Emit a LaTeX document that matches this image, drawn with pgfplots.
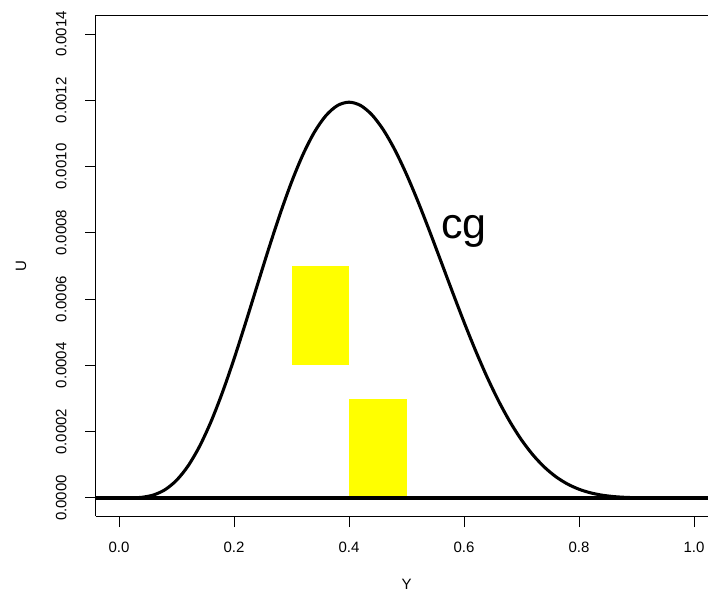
\documentclass[border=0pt]{standalone}
\usepackage{fontspec}
\setmainfont{Liberation Sans}
\usepackage{pgfplots}
\pgfplotsset{compat=1.18}
\definecolor{ryellow}{RGB}{255,255,0}
\begin{document}
\begin{tikzpicture}
\begin{axis}[
  at={(0,0)}, anchor=south west,
  scale only axis,
  width=459pt, height=375.75pt,
  xmin=-0.04, xmax=1.0243,
  ymin=-0.000056, ymax=0.001456,
  axis x line*=box, axis y line*=left,
  axis line style={line width=0.75pt},
  xtick={0,0.2,0.4,0.6,0.8,1.0},
  ytick={0,0.0002,0.0004,0.0006,0.0008,0.0010,0.0012,0.0014},
  xtick pos=lower, ytick pos=left,
  tick align=outside,
  major tick length=8pt,
  tick style={line width=0.75pt, black},
  scaled x ticks=false, scaled y ticks=false,
  /pgf/number format/assume math mode=true,
  xticklabel={\pgfmathprintnumber[fixed,precision=1,zerofill]{\tick}},
  yticklabel={\pgfmathprintnumber[fixed,precision=4,zerofill]{\tick}},
  tick label style={font=\fontsize{11.25}{13}\selectfont},
  xticklabel style={anchor=center, yshift=-14.9pt},
  yticklabel style={rotate=90, anchor=center, yshift=18pt},
  xlabel={Y}, ylabel={U},
  label style={font=\fontsize{11.25}{13}\selectfont},
  xlabel style={at={(rel axis cs:0.5074,0)}, anchor=center, yshift=-51pt},
  ylabel style={at={(rel axis cs:0,0.5)}, anchor=center, yshift=56.25pt},
  clip=true,
]
\addplot[fill=ryellow, draw=none] coordinates {(0.3,0.0004) (0.4,0.0004) (0.4,0.0007) (0.3,0.0007)} -- cycle;
\addplot[fill=ryellow, draw=none] coordinates {(0.4,0) (0.5,0) (0.5,0.0003) (0.4,0.0003)} -- cycle;
\addplot[black, line width=2.3pt, smooth, tension=0.5] coordinates {
(0,0) (0.02,1.4173e-7) (0.04,2.0039e-6) (0.06,8.9407e-6) (0.08,2.4836e-5)
(0.10,5.3144e-5) (0.12,9.6299e-5) (0.14,1.55418e-4) (0.16,2.30225e-4) (0.18,3.19134e-4)
(0.20,4.19430e-4) (0.22,5.27594e-4) (0.24,6.39333e-4) (0.26,7.50383e-4) (0.28,8.56302e-4)
(0.30,9.52957e-4) (0.32,1.036696e-3) (0.34,1.104535e-3) (0.36,1.154216e-3) (0.38,1.184359e-3)
(0.40,1.194394e-3) (0.42,1.184599e-3) (0.44,1.155950e-3) (0.46,1.110141e-3) (0.48,1.049527e-3)
(0.50,9.765625e-4) (0.52,8.94284e-4) (0.54,8.05580e-4) (0.56,7.13591e-4) (0.58,6.21163e-4)
(0.60,5.30842e-4) (0.62,4.44916e-4) (0.64,3.65240e-4) (0.66,2.93160e-4) (0.68,2.29636e-4)
(0.70,1.75033e-4) (0.72,1.29532e-4) (0.74,9.26585e-5) (0.76,6.37218e-5) (0.78,4.1975e-5)
(0.80,2.62144e-5) (0.82,1.5378e-5) (0.84,8.353e-6) (0.86,4.119e-6) (0.88,1.791e-6)
(0.90,6.56e-7) (0.92,1.88e-7) (0.94,3.6e-8) (0.96,0) (0.98,0) (1.0,0)
};
\addplot[black, line width=2.5pt] coordinates {(-0.04,0) (1.0243,0)};
\node[anchor=base, font=\fontsize{32.25}{36}\selectfont, inner sep=0pt] at (axis cs:0.6,0.000783) {cg};
\end{axis}
\pgfresetboundingbox
\useasboundingbox (-72pt,-56.625pt) rectangle (459pt,387.375pt);
\end{tikzpicture}
\end{document}
